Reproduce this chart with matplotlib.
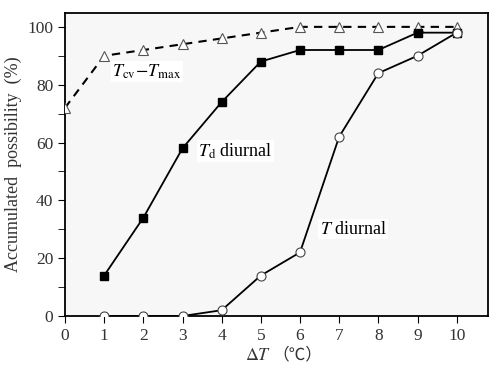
import matplotlib
matplotlib.use("Agg")
import matplotlib.pyplot as plt
from matplotlib.ticker import MultipleLocator

x_tcv = [0, 1, 2, 3, 4, 5, 6, 7, 8, 9, 10]
y_tcv = [72, 90, 92, 94, 96, 98, 100, 100, 100, 100, 100]
x_td = [1, 2, 3, 4, 5, 6, 7, 8, 9, 10]
y_td = [14, 34, 58, 74, 88, 92, 92, 92, 98, 98]
x_t = [1, 2, 3, 4, 5, 6, 7, 8, 9, 10]
y_t = [0, 0, 0, 2, 14, 22, 62, 84, 90, 98]
xticks = list(range(0, 11))
yticks = [0, 20, 40, 60, 80, 100]

plt.rcParams['font.family'] = ['Liberation Serif', 'Noto Sans CJK SC', 'DejaVu Serif']
plt.rcParams['mathtext.fontset'] = 'stix'

fig = plt.figure(figsize=(4.97, 3.73), dpi=100)
ax = fig.add_axes([65/497, 1-316/373, (488-65)/497, (316-13)/373])
ax.set_facecolor('#f7f7f7')

ax.plot(x_tcv, y_tcv, linestyle=(0, (4, 3)), color='black', lw=1.5, marker='^',
        markersize=7, markerfacecolor='white', markeredgecolor='#555555', markeredgewidth=0.8, zorder=3)
ax.plot(x_td, y_td, color='black', lw=1.3, marker='s', markersize=5.5,
        markerfacecolor='black', clip_on=False, zorder=3)
ax.plot(x_t, y_t, color='black', lw=1.3, marker='o', markersize=6.5,
        markerfacecolor='white', markeredgecolor='#444444', markeredgewidth=0.8, zorder=3)

ax.set_xlim(0, 10.8)
ax.set_ylim(0, 104.8)
ax.set_xticks(xticks)
ax.set_yticks(yticks)
ax.yaxis.set_minor_locator(MultipleLocator(10))
ax.tick_params(axis='both', which='both', direction='out', labelsize=12.5, colors='black')
ax.tick_params(axis='both', which='major', length=5)
ax.tick_params(axis='y', which='minor', length=5)
for t in ax.get_xticklabels() + ax.get_yticklabels():
    t.set_color('#333333')
for s in ax.spines.values():
    s.set_linewidth(1.3)

bbox = dict(facecolor='white', edgecolor='none', pad=1)
ax.text(1.2, 84.5, r'$T_{\rm cv}\!-\!T_{\rm max}$', fontsize=13, bbox=bbox, ha='left', va='center')
ax.text(3.4, 57, r'$T_{\rm d}$ diurnal', fontsize=13, bbox=bbox, ha='left', va='center')
ax.text(6.5, 30, r'$T$ diurnal', fontsize=13, bbox=bbox, ha='left', va='center')

ax.set_ylabel('Accumulated  possibility  (%)', fontsize=13, color='#333333')
fig.text(271/497, 1-355/373, r'$\Delta T$', fontsize=13, color='#333333', ha='right', va='center')
fig.text(272/497, 1-355/373, '（℃）', fontsize=12, color='#333333', ha='left', va='center',
         family=['Noto Sans CJK SC'])

fig.savefig('out.png', dpi=100)
